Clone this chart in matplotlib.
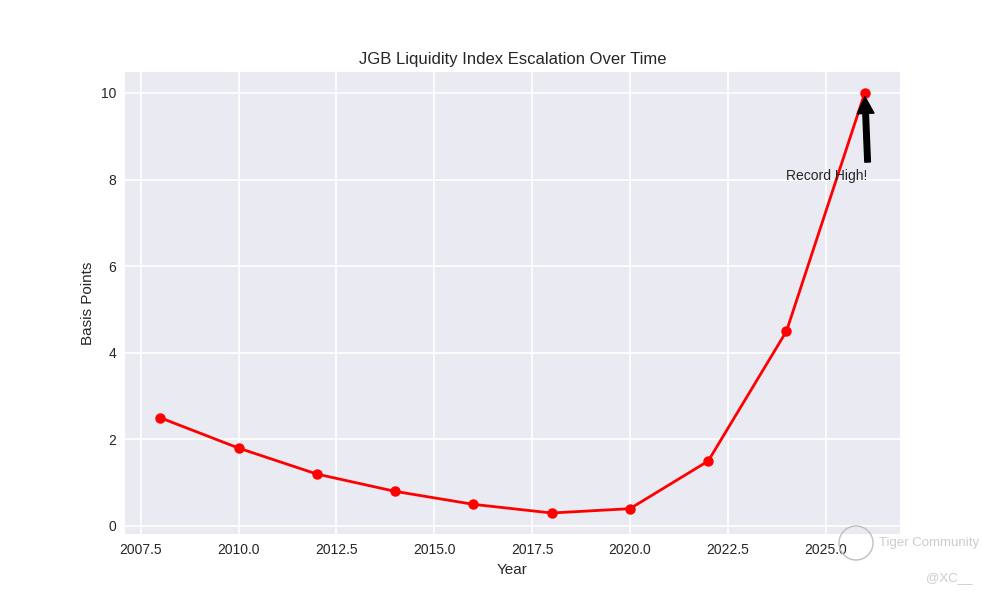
import matplotlib
matplotlib.use("Agg")
import matplotlib.pyplot as plt
from matplotlib.patches import Circle

plt.style.use("seaborn-v0_8-darkgrid")
plt.rcParams["font.family"] = ["Liberation Sans", "DejaVu Sans"]
plt.rcParams["axes.labelsize"] = 11
plt.rcParams["grid.linewidth"] = 1.2
plt.rcParams["xtick.major.pad"] = 6.5
plt.rcParams["ytick.major.pad"] = 6.5

years = [2008, 2010, 2012, 2014, 2016, 2018, 2020, 2022, 2024, 2026]
basis_points = [2.5, 1.8, 1.2, 0.8, 0.5, 0.3, 0.4, 1.5, 4.5, 10.0]

fig, ax = plt.subplots(figsize=(10, 6), dpi=100)
ax.plot(years, basis_points, "-o", color="red", lw=2, markersize=6.5)

ax.annotate("Record High!", xy=(years[-1], basis_points[-1]), xytext=(2024, 8),
            arrowprops=dict(facecolor="black", shrink=0.05))

ax.set_title("JGB Liquidity Index Escalation Over Time")
ax.set_xlabel("Year")
ax.set_ylabel("Basis Points")

# watermark
fig.patches.append(Circle((8.56, 0.57), 0.17, transform=fig.dpi_scale_trans,
                          fill=False, edgecolor="0.75", lw=1, zorder=5))
fig.text(0.879, 0.095, "Tiger Community", fontsize=9.5, color="0.8", va="center")
fig.text(0.926, 0.037, "@XC__", fontsize=9.5, color="0.8", va="center")

fig.savefig("out.png")
